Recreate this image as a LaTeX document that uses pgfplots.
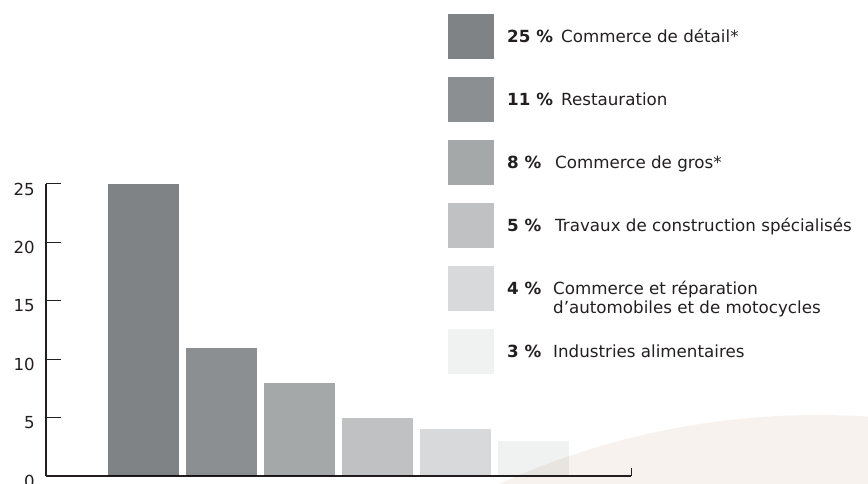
\documentclass[border=0pt]{standalone}
\usepackage{pgfplots}
\pgfplotsset{compat=1.18}
\usepackage{fontspec}
\setmainfont{DejaVu Sans}

\definecolor{txt}{RGB}{35,31,32}
\definecolor{c1}{RGB}{128,131,134}
\definecolor{c2}{RGB}{140,143,145}
\definecolor{c3}{RGB}{165,168,169}
\definecolor{c4}{RGB}{192,193,195}
\definecolor{c5}{RGB}{216,217,219}
\definecolor{c6}{RGB}{240,241,241}
\definecolor{beige}{RGB}{247,242,238}

\pgfplotsset{
  sbar/.style={ybar, bar width=71pt, bar shift=0pt, draw=none, fill=#1,
    blend mode=multiply,
    legend image code/.code={\fill[#1] (0pt,-22.5pt) rectangle (46pt,22.5pt);}},
}

\begin{document}
\begin{tikzpicture}
% decorative background arc
\begin{scope}
  \clip (0pt,0pt) rectangle (868pt,484pt);
  \fill[beige] (818pt,-701pt) circle (770pt);
\end{scope}

\begin{axis}[
  at={(46pt,8pt)}, anchor=south west,
  scale only axis, width=585pt, height=292pt,
  xmin=-1.25, xmax=6.25, ymin=0, ymax=25,
  axis lines*=left,
  axis line style={txt, line width=1.1pt},
  xtick=\empty,
  extra x ticks={6.25}, extra x tick labels={},
  extra x tick style={major tick length=8pt, tick align=inside},
  ytick={0,5,10,15,20,25},
  tick align=inside, major tick length=15pt,
  tick style={txt, line width=1pt},
  yticklabel style={inner sep=0pt, xshift=-11pt, yshift=-5pt, text=txt},
  /pgf/number format/assume math mode=true,
  font=\fontsize{16.6}{19.5}\selectfont,
  legend cell align=left,
  legend style={at={(axis description cs:0.6872,1.5822)}, anchor=north west,
    draw=none, fill=none, inner sep=0pt, row sep=18pt, column sep=13pt,
    nodes={inner sep=0pt, text=txt}, font=\fontsize{16.7}{19.5}\selectfont},
  clip=false,
]
\addplot[sbar=c1] coordinates {(0,25)};
\addlegendentry{\makebox[54pt][l]{\textbf{25 \%}}Commerce de détail*}
\addplot[sbar=c2] coordinates {(1,11)};
\addlegendentry{\makebox[54pt][l]{\textbf{11 \%}}Restauration}
\addplot[sbar=c3] coordinates {(2,8)};
\addlegendentry{\makebox[48pt][l]{\textbf{8 \%}}Commerce de gros*}
\addplot[sbar=c4] coordinates {(3,5)};
\addlegendentry{\makebox[48pt][l]{\textbf{5 \%}}Travaux de construction spécialisés}
\addplot[sbar=c5] coordinates {(4,4)};
\addlegendentry{\makebox[46pt][l]{\textbf{4 \%}}\begin{tabular}[t]{@{}l@{}}Commerce et réparation\\[-1pt]d’automobiles et de motocycles\end{tabular}}
\addplot[sbar=c6] coordinates {(5,3)};
\addlegendentry{\makebox[46pt][l]{\textbf{3 \%}}Industries alimentaires}
\end{axis}

\pgfresetboundingbox
\path (0pt,0pt) rectangle (868pt,484pt);
\end{tikzpicture}
\end{document}
